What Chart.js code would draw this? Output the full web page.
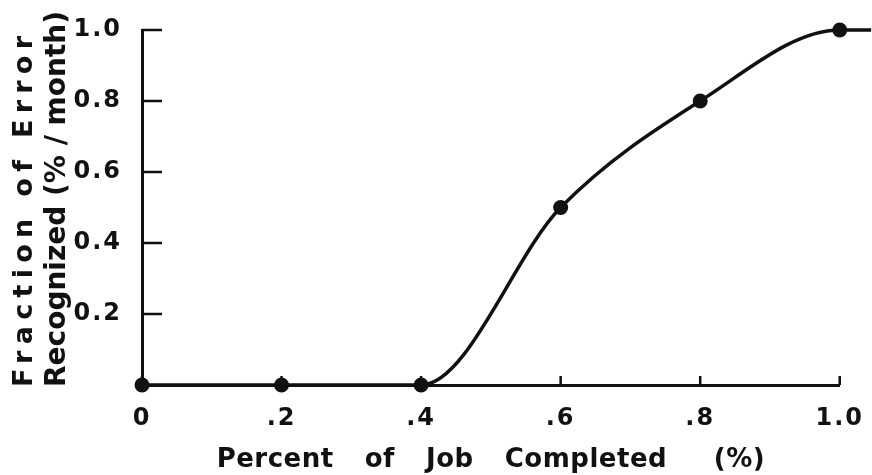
<!DOCTYPE html>
<html>
<head>
<meta charset="utf-8">
<script src="https://cdn.jsdelivr.net/npm/chart.js@4/dist/chart.umd.min.js"></script>
<style>
  html, body { margin: 0; padding: 0; background: #fff; }
  #grafico { display: block; }
</style>
</head>
<body>
<canvas id="grafico" width="872" height="475"></canvas>
<script>
"use strict";
// data
var jobDone = [0, 0.2, 0.4, 0.6, 0.8, 1.0, 1.045];
var errorFrac = [0, 0, 0, 0.5, 0.8, 1.0, 1.0];
var markers = [true, true, true, true, true, true, false];
var xTickLabels = ["0", ".2", ".4", ".6", ".8", "1.0"];
var yTickLabels = ["", "0.2", "0.4", "0.6", "0.8", "1.0"];
var yTitle = ["Fraction of Error", "Recognized (% / month)"];
var xTitle = "Percent  of  Job  Completed   (%)";

var pts = [];
for (var i = 0; i < jobDone.length; i++) {
    pts.push({x: jobDone[i], y: errorFrac[i]});
}

// ticks pointing inward, like the original
var innerTicks = {
    id: 'innerTicks',
    beforeDatasetsDraw: function (chart) {
        var ctx = chart.ctx, area = chart.chartArea;
        var sx = chart.scales.x, sy = chart.scales.y;
        ctx.save();
        ctx.strokeStyle = '#111';
        ctx.lineWidth = 2.5;
        ctx.beginPath();
        sx.ticks.forEach(function (t) {
            var px = sx.getPixelForValue(t.value);
            ctx.moveTo(px, area.bottom);
            ctx.lineTo(px, area.bottom - 9);
        });
        sy.ticks.forEach(function (t) {
            if (t.value === 0) return;
            var py = sy.getPixelForValue(t.value);
            ctx.moveTo(area.left, py);
            ctx.lineTo(area.left + 20, py);
        });
        ctx.stroke();
        ctx.restore();
    }
};

// axis titles with the wide letter spacing of the original
var axisTitles = {
    id: 'axisTitles',
    beforeDraw: function (chart) {
        chart.ctx.letterSpacing = '2px';
    },
    afterDraw: function (chart) {
        var ctx = chart.ctx, area = chart.chartArea;
        var fonts = ['bold 27px "DejaVu Sans"', 'bold 28px "DejaVu Sans"'];
        var spacing = ['6.3px', '0px'];
        var baseX = [32, 65];
        ctx.save();
        ctx.fillStyle = '#111';
        ctx.textBaseline = 'alphabetic';
        ctx.textAlign = 'left';
        for (var k = 0; k < yTitle.length; k++) {
            ctx.save();
            ctx.font = fonts[k];
            ctx.letterSpacing = spacing[k];
            ctx.translate(baseX[k], area.bottom + 2);
            ctx.rotate(-Math.PI / 2);
            ctx.fillText(yTitle[k], 0, 0);
            ctx.restore();
        }
        ctx.font = 'bold 26px "DejaVu Sans"';
        ctx.letterSpacing = '0.5px';
        ctx.wordSpacing = '6px';
        ctx.textAlign = 'center';
        ctx.fillText(xTitle, (area.left + area.right) / 2, 467);
        ctx.restore();
    }
};

var ctx = document.getElementById('grafico').getContext('2d');
var chart = new Chart(ctx, {
    type: 'line',
    data: {
        datasets: [{
            data: pts,
            borderColor: '#111',
            backgroundColor: '#111',
            borderWidth: 3.5,
            pointRadius: markers.map(function (m) { return m ? 7.5 : 0; }),
            pointHoverRadius: 0,
            pointBackgroundColor: '#111',
            pointBorderWidth: 0,
            cubicInterpolationMode: 'monotone',
            clip: false,
            fill: false
        }]
    },
    plugins: [innerTicks, axisTitles],
    options: {
        responsive: false,
        animation: false,
        layout: {
            padding: {top: 30, right: 20, left: 0, bottom: 0}
        },
        plugins: {
            legend: {display: false},
            tooltip: {enabled: false}
        },
        scales: {
            x: {
                type: 'linear',
                min: 0,
                // axis stops at 1.0 but the curve runs on past it
                afterDataLimits: function (s) { s.max = 1.0; },
                afterFit: function (s) { s.height = 90; },
                grid: {display: false},
                border: {display: true, color: '#111', width: 3},
                ticks: {
                    stepSize: 0.2,
                    padding: 11,
                    color: '#111',
                    font: {family: 'DejaVu Sans', size: 24, weight: 'bold'},
                    callback: function (v, idx) { return xTickLabels[idx]; }
                }
            },
            y: {
                min: 0,
                max: 1.0,
                afterFit: function (s) { s.width = 142; },
                grid: {display: false},
                border: {display: true, color: '#111', width: 3},
                ticks: {
                    stepSize: 0.2,
                    padding: 12,
                    color: '#111',
                    font: {family: 'DejaVu Sans', size: 24, weight: 'bold'},
                    callback: function (v, idx) { return yTickLabels[idx]; }
                }
            }
        }
    }
});
</script>
</body>
</html>
